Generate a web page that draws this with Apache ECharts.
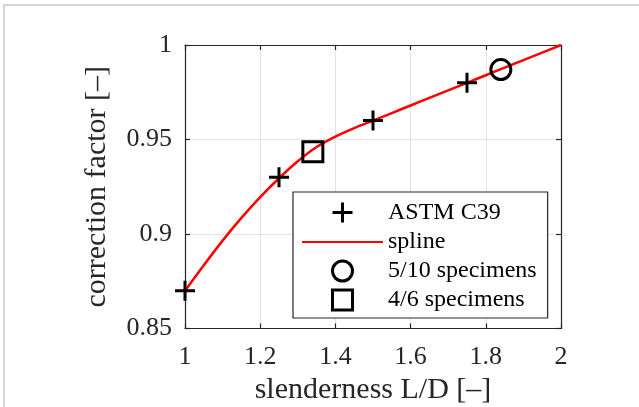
<!DOCTYPE html>
<html>
<head>
<meta charset="utf-8">
<script src="https://cdn.jsdelivr.net/npm/echarts@6/dist/echarts.min.js"></script>
<style>html,body{margin:0;padding:0;background:#fff}#c{width:639px;height:407px}</style>
</head>
<body>
<div id="c"></div>
<script>
// ASTM C39 correction factors
const astmX = [1.0, 1.25, 1.5, 1.75];
const astmY = [0.87, 0.93, 0.96, 0.98];
// spline curve
const splineX = [1.00, 1.05, 1.10, 1.15, 1.20, 1.25, 1.30, 1.35, 1.40, 1.45, 1.50, 1.55, 1.60, 1.65, 1.70, 1.75, 1.80, 1.85, 1.90, 1.95, 2.00];
const splineY = [0.870, 0.8835, 0.8965, 0.9085, 0.9195, 0.9295, 0.9385, 0.9460, 0.9515, 0.9560, 0.9600, 0.9640, 0.9680, 0.9720, 0.9760, 0.9800, 0.9840, 0.9880, 0.9920, 0.9960, 1.000];
// specimen points
const spec510X = [1.84];
const spec510Y = [0.987];
const spec46X = [1.34];
const spec46Y = [0.9435];
const seriesNames = ['ASTM C39', 'spline', '5/10 specimens', '4/6 specimens'];
const xTicks = {min: 1, max: 2, interval: 0.2};
const yTicks = {min: 0.85, max: 1, interval: 0.05};

const zip = (xs, ys) => xs.map((x, i) => [x, ys[i]]);
const fmt = v => String(+(+v).toFixed(2));
const FONT = '"Liberation Serif", "Times New Roman", serif';
const AX = '#262626';
const PLUS = 'path://M0,-10L0,10M-10,0L10,0';
const SQUARE = 'path://M-10,-10L10,-10L10,10L-10,10Z';

const chart = echarts.init(document.getElementById('c'));
const baseAxis = {
  axisLine: {show: true, lineStyle: {color: AX, width: 1.2}},
  axisTick: {show: true, inside: true, length: 5, lineStyle: {color: AX, width: 1.2}},
};
chart.setOption({
  animation: false,
  backgroundColor: '#fff',
  graphic: [{
    type: 'rect', shape: {x: 4, y: 5, width: 720, height: 500},
    style: {fill: 'none', stroke: '#d6d6d6', lineWidth: 2}, silent: true, z: -10
  }],
  grid: {left: 185, top: 45, width: 376, height: 283.5, containLabel: false, outerBoundsMode: 'none'},
  xAxis: [
    Object.assign({}, baseAxis, {
      type: 'value', position: 'bottom', min: xTicks.min, max: xTicks.max, interval: xTicks.interval,
      name: 'slenderness L/D [–]', nameLocation: 'middle', nameGap: 47,
      nameTextStyle: {fontFamily: FONT, fontSize: 30, color: AX},
      axisLabel: {formatter: fmt, fontFamily: FONT, fontSize: 26, color: AX, margin: 16},
      splitLine: {show: true, lineStyle: {color: '#e3e3e3', width: 1}}
    }),
    Object.assign({}, baseAxis, {
      type: 'value', position: 'top', min: xTicks.min, max: xTicks.max, interval: xTicks.interval,
      axisLabel: {show: false}, splitLine: {show: false}
    })
  ],
  yAxis: [
    Object.assign({}, baseAxis, {
      type: 'value', position: 'left', min: yTicks.min, max: yTicks.max, interval: yTicks.interval,
      name: 'correction factor [–]', nameLocation: 'middle', nameGap: 73, nameRotate: 90,
      nameTextStyle: {fontFamily: FONT, fontSize: 30, color: AX},
      axisLabel: {formatter: fmt, fontFamily: FONT, fontSize: 26, color: AX, margin: 13},
      splitLine: {show: true, lineStyle: {color: '#e3e3e3', width: 1}}
    }),
    Object.assign({}, baseAxis, {
      type: 'value', position: 'right', min: yTicks.min, max: yTicks.max, interval: yTicks.interval,
      axisLabel: {show: false}, splitLine: {show: false}
    })
  ],
  legend: {
    orient: 'vertical', left: 293, top: 192,
    padding: [8, 11, 6, 8], itemGap: 5, itemWidth: 81, itemHeight: 20,
    backgroundColor: '#fff', borderColor: AX, borderWidth: 1.2, borderRadius: 0,
    textStyle: {fontFamily: FONT, fontSize: 24, color: '#000'},
    itemStyle: {borderWidth: 3},
    data: [
      {name: seriesNames[0], icon: PLUS},
      {name: seriesNames[1], itemStyle: {color: 'rgba(0,0,0,0)', borderColor: 'rgba(0,0,0,0)', borderWidth: 0}},
      {name: seriesNames[2]},
      {name: seriesNames[3], icon: SQUARE}
    ]
  },
  series: [
    {
      name: seriesNames[0], type: 'scatter', z: 5,
      symbol: PLUS, symbolSize: 20,
      itemStyle: {color: 'none', borderColor: '#000', borderWidth: 3, opacity: 1},
      data: zip(astmX, astmY)
    },
    {
      name: seriesNames[1], type: 'line', z: 3, smooth: 0.3, symbol: 'none', showSymbol: false,
      lineStyle: {color: '#ff0000', width: 2.5}, itemStyle: {color: '#ff0000'},
      data: zip(splineX, splineY)
    },
    {
      name: seriesNames[2], type: 'scatter', z: 5, symbol: 'circle', symbolSize: 20,
      itemStyle: {color: 'rgba(0,0,0,0)', borderColor: '#000', borderWidth: 3, opacity: 1},
      data: zip(spec510X, spec510Y)
    },
    {
      name: seriesNames[3], type: 'scatter', z: 5, symbol: SQUARE, symbolSize: 20,
      itemStyle: {color: 'rgba(0,0,0,0)', borderColor: '#000', borderWidth: 3, opacity: 1},
      data: zip(spec46X, spec46Y)
    }
  ]
});
</script>
</body>
</html>
